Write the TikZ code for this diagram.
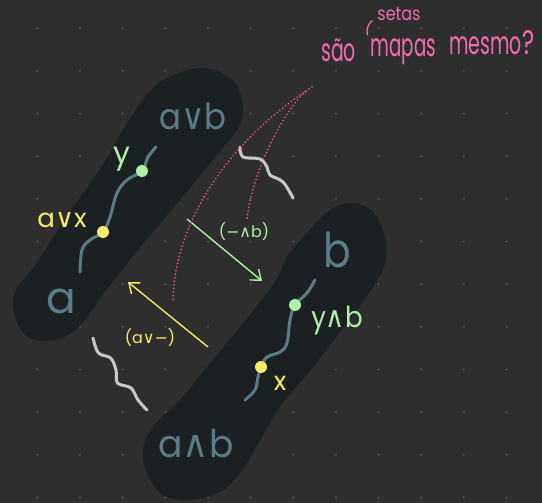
\documentclass[tikz,border=0pt]{standalone}
\usepackage{fontspec}
\usepackage{graphicx}
\setmainfont{Poppins}
\newfontfamily\symf{DejaVu Sans}
\usetikzlibrary{arrows.meta}
\definecolor{bg}{HTML}{2E2E2E}
\definecolor{blob}{HTML}{1A2023}
\definecolor{teal}{HTML}{5A7C86}
\definecolor{lgreen}{HTML}{B2F0A8}
\definecolor{lyellow}{HTML}{F6EC6C}
\definecolor{pinktxt}{HTML}{F26CB0}
\definecolor{pinkdot}{HTML}{EA559E}
\definecolor{squig}{HTML}{C8C8C8}
\newcommand{\orsym}{{\symf ∨}}
\newcommand{\andsym}{{\symf ∧}}
\newcommand{\blanksym}{{\symf −}}
% narrow handwriting-like words
\newcommand{\narrow}[2]{\scalebox{#1}[1]{#2}}
\begin{document}
\begin{tikzpicture}[x=1pt,y=-1pt,
  sizedtext/.style={inner sep=0pt,anchor=base,font=\fontsize{#1}{#1}\selectfont},
  bigtext/.style={sizedtext=#1,text=teal},
  greentext/.style={sizedtext=#1,text=lgreen},
  yellowtext/.style={sizedtext=#1,text=lyellow},
  pinktext/.style={sizedtext=#1,text=pinktxt},
  path1/.style={draw=teal,line width=3pt,line cap=round},
  squiggle/.style={draw=squig,line width=3pt,line cap=round},
  pinkarc/.style={draw=pinkdot,line width=1.9pt,line cap=round,dash pattern=on 0.01pt off 3.6pt},
  mapsto/.style={line width=1.4pt,-{Straight Barb[length=9pt,width=14pt,line width=1.4pt]}},
  pt/.style={circle,inner sep=0pt,minimum size=12pt}
]
% canvas
\fill[bg] (0,0) rectangle (542,503);
\useasboundingbox (0,0) rectangle (542,503);
% dot grid
\foreach \i in {0,...,11}
  \foreach \j in {0,...,11}
    \fill[white,opacity=0.2] ({37.3+42.65*\i},{28.3+42.65*\j}) circle (1.1pt);
% the two regions
\fill[blob,opacity=0.93] plot[smooth cycle,tension=0.6] coordinates {
  (207,68) (235,83) (243,110) (238,128) (221,150) (180,200) (138,250) (104,293)
  (80,326) (55,340) (28,337) (14,313) (16,290) (35,265) (69,213) (104,163)
  (124,128) (149,92) (173,75)};
\fill[blob,opacity=0.93] plot[smooth cycle,tension=0.6] coordinates {
  (353,203) (373,212) (385,237) (385,263) (373,287) (347,323) (313,367) (280,407)
  (253,453) (240,473) (220,492) (190,500) (163,495) (147,473) (143,450) (153,427)
  (180,400) (207,367) (240,327) (267,293) (280,273) (287,257) (307,233) (330,210)};
% region labels
\node[bigtext=36] (avb) at (193,130) {\narrow{0.9}{a\orsym b}};
\node[bigtext=44] (a) at (61,313) {a};
\node[bigtext=48] (b) at (337,267) {\narrow{0.85}{b}};
\node[bigtext=38] (awb) at (196,457) {\narrow{0.95}{a\andsym b}};
% paths inside the regions
\draw[path1] plot[smooth,tension=0.6] coordinates {
  (80,272) (82,250) (90,240) (103,232) (110,217) (117,193) (127,180) (142,171) (148,157) (156,147)};
\draw[path1] plot[smooth,tension=0.6] coordinates {
  (245,400) (255,390) (258,377) (261,367) (267,357) (280,352) (287,343) (290,320) (295,305) (307,293) (315,280)};
\node[pt,fill=lyellow] (x1) at (103,232) {};
\node[pt,fill=lgreen] (y1) at (142,171) {};
\node[pt,fill=lyellow] (x2) at (261,367) {};
\node[pt,fill=lgreen] (y2) at (295,305) {};
\node[greentext=30] (ylab) at (122,164) {y};
\node[yellowtext=26] (avxlab) at (62,227) {a\orsym x};
\node[greentext=29] (yblab) at (337,327) {\narrow{0.9}{y\andsym b}};
\node[yellowtext=26] (xlab) at (280,390) {x};
% the two maps
\coordinate (gs) at (187,219);
\coordinate (ge) at (262,281);
\coordinate (ys) at (208,347);
\coordinate (ye) at (128,282);
\draw[mapsto,lgreen] (gs) -- (ge);
\draw[mapsto,lyellow] (ys) -- (ye);
\node[greentext=16,anchor=center] (glab) at (244,232) {(\blanksym\andsym b)};
\node[yellowtext=16,anchor=center] (ylab2) at (150,338) {(a\orsym\blanksym)};
% squiggles
\draw[squiggle] plot[smooth,tension=0.6] coordinates {
  (240,147) (243,157) (260,159) (267,167) (270,175) (283,182) (293,198)};
\draw[squiggle] plot[smooth,tension=0.6] coordinates {
  (93,338) (98.5,353) (110.6,358) (116,370) (117.5,383) (131,388) (138,400) (147,410)};
% dotted arcs
\draw[pinkarc] (312,87) .. controls (230,140) and (175,220) .. (173,300);
\draw[pinkarc] (305,92) .. controls (280,115) and (250,180) .. (247,220);
% question
\node[pinktext=32] (sao) at (338.5,61.5) {\narrow{0.59}{são}};
\node[pinktext=32] (mapas) at (403.5,57) {\narrow{0.57}{mapas}};
\node[pinktext=32] (mesmo) at (485.5,55) {\narrow{0.59}{mesmo}};
\node[pinktext=34] (q) at (528.5,55) {\narrow{0.68}{?}};
\node[pinktext=19] (setas) at (399,21) {\narrow{0.84}{setas}};
\draw[pinktxt,line width=1.3pt,line cap=round] (372,20.7) .. controls (368,24) and (366,30) .. (367.5,35);
\end{tikzpicture}
\end{document}
